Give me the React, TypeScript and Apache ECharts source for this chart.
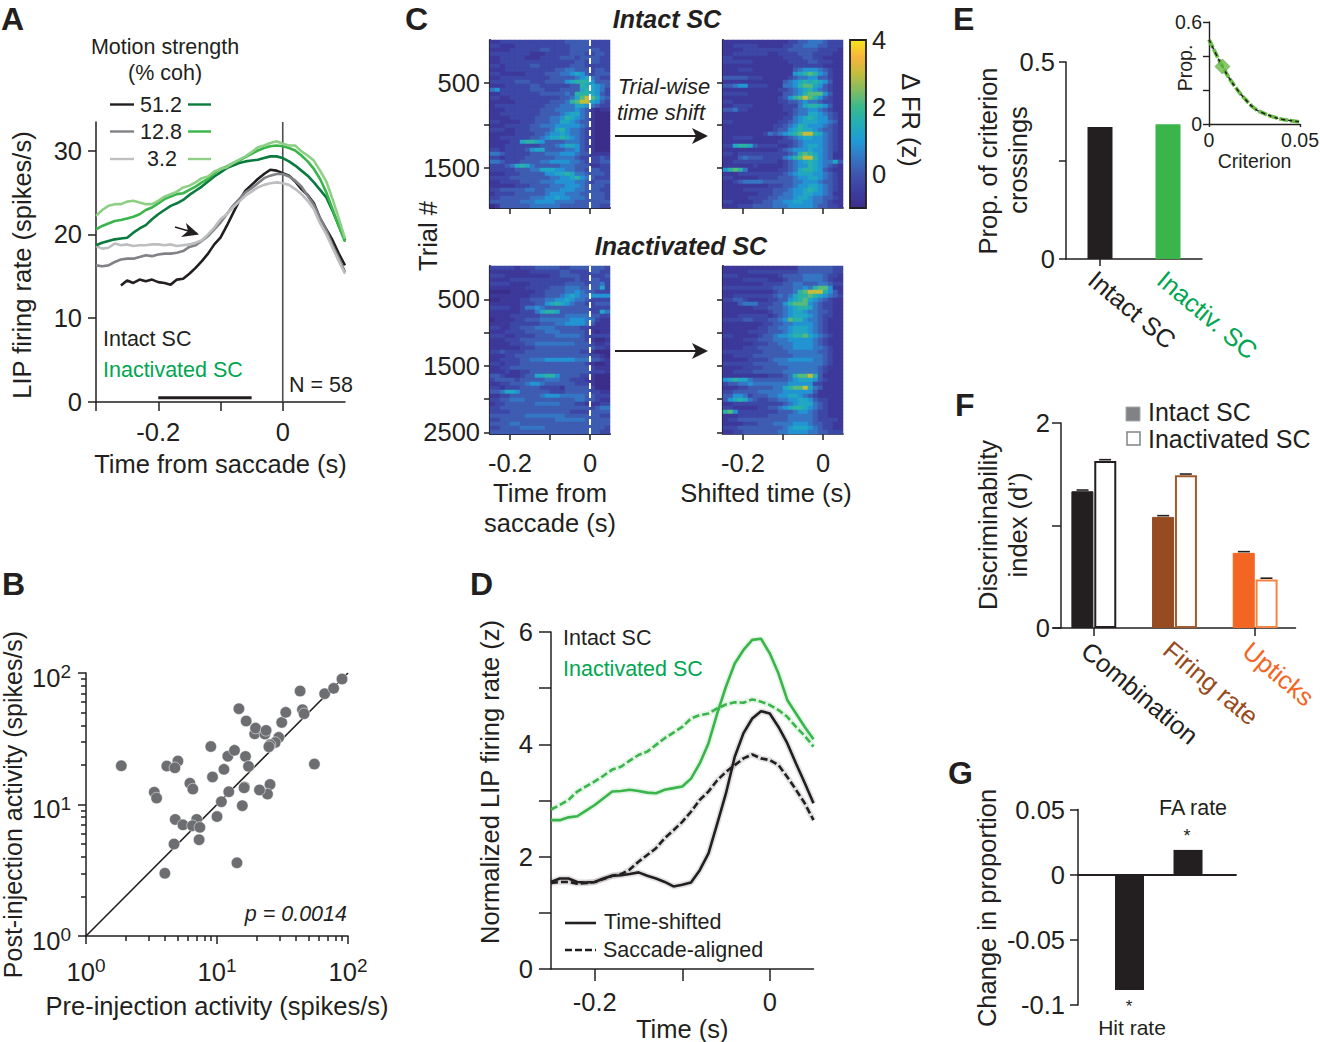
import React, { useEffect, useRef } from "react";
import * as echarts from "echarts";

const INK = "#231f20";
const FONT = "Liberation Sans";
const GREEN_TXT = "#00a651";

// Panel A
const timeA = [-0.3,-0.29,-0.28,-0.27,-0.26,-0.25,-0.24,-0.23,-0.22,-0.21,-0.2,-0.19,-0.18,-0.17,-0.16,-0.15,-0.14,-0.13,-0.12,-0.11,-0.1,-0.09,-0.08,-0.07,-0.06,-0.05,-0.04,-0.03,-0.02,-0.01,0,0.01,0.02,0.03,0.04,0.05,0.06,0.07,0.08,0.09,0.1];
const intact512 = [null,null,null,null,13.9,14.5,14.2,14.6,14.4,14.6,14.3,14.2,14.0,14.6,14.7,15.3,16.0,16.8,17.7,18.8,19.6,21.0,22.5,24.0,25.2,25.9,26.6,27.2,27.7,27.6,27.3,27.0,26.3,25.4,24.7,23.7,21.9,20.6,19.3,17.7,16.3];
const intact128 = [16.3,16.2,16.3,16.7,17.0,17.1,17.1,17.3,17.5,17.4,17.6,17.7,17.7,17.8,18.0,18.5,18.7,19.2,19.8,20.6,21.4,22.4,23.4,24.2,25.0,25.5,26.1,26.7,27.0,27.2,27.2,26.9,26.4,25.7,24.6,23.5,21.9,20.5,18.7,17.2,15.5];
const intact32 = [18.6,18.3,18.4,18.9,18.7,18.8,18.6,18.7,18.7,18.8,18.8,18.7,18.8,18.6,18.7,18.8,19.0,19.3,20.0,20.8,21.8,22.4,23.2,23.9,24.6,25.1,25.6,25.9,26.1,26.2,26.1,25.9,25.4,24.8,24.0,23.0,21.3,20.0,18.4,16.8,15.3];
const inact512 = [18.7,19.0,19.2,19.4,19.5,19.6,20.2,20.7,21.1,21.8,22.4,22.9,23.4,23.7,24.1,24.7,25.2,25.7,26.3,26.9,27.4,27.9,28.2,28.5,28.7,28.8,28.9,29.1,29.3,29.3,29.1,28.7,28.2,27.6,27.0,26.2,25.3,24.4,22.8,21.0,19.3];
const inact128 = [20.6,21.0,21.3,21.6,21.7,21.9,22.1,22.4,22.9,23.2,23.7,24.2,24.5,24.8,24.9,25.3,25.7,26.2,26.6,27.3,27.8,28.1,28.5,28.8,29.2,29.6,30.0,30.3,30.5,30.6,30.5,30.3,30.0,29.4,28.7,27.8,26.6,25.0,23.0,21.0,19.1];
const inact32 = [22.2,22.9,23.4,23.6,23.6,23.9,24.0,23.8,23.6,23.6,24.0,24.5,24.8,25.1,25.6,25.8,26.2,26.7,26.9,27.5,27.8,28.0,28.5,28.9,29.3,29.8,30.4,30.6,30.9,31.1,30.8,30.6,30.6,29.9,29.4,28.8,27.6,26.3,24.2,21.9,19.5];
const windowBar = [[-0.2, 0.5], [-0.05, 0.5]];
const saccadeLineA = [[0, 0], [0, 33.4]];

// Panel B: [pre, post]
const scatterB = [[1.86,19.7],[3.32,12.4],[3.46,11.2],[4.14,19.6],[5.03,21.4],[4.77,19.0],[6.21,14.5],[6.54,13.1],[8.97,27.6],[9.24,16.2],[11.3,18.5],[12.1,23.3],[13.6,25.8],[14.7,53.5],[16.5,23.2],[16.7,43.1],[17.4,19.5],[19.4,34.5],[19.7,38.1],[23.2,34.3],[23.7,36.6],[31.2,42.1],[33.5,50.2],[43.1,72.9],[44.9,52.6],[46.2,49.0],[66.4,69.6],[77.7,76.4],[90,90],[55.4,20.3],[29.6,32.4],[27.8,29.6],[25.4,28.5],[24.9,27.5],[25.4,14.2],[24.3,12.0],[21.1,12.9],[16.2,13.6],[16.1,13.4],[15.6,9.8],[12.3,12.5],[10.8,10.5],[10.0,8.1],[7.0,7.7],[4.8,7.7],[5.5,7.0],[6.5,6.9],[7.4,6.7],[7.3,5.4],[4.7,5.0],[4.0,3.0],[14.2,3.6]];
const unityB = [[1, 1], [100, 100]];
const logMajor = [1, 10, 100];
const logMinor = [2,3,4,5,6,7,8,9,20,30,40,50,60,70,80,90];

// Panel C: each digit indexes heatLevels (z), rows are trial bins, columns are time bins
const heatLevels = [-1, -0.65, -0.3, 0.1, 0.5, 0.9, 1.3, 1.7, 2.2, 3.0];
const heatIntactSaccade = [
"112222222222222333332222","221112222222222233332222","111122222233222233333322","222222221112222233322332",
"112222211122223332333322","112222222222222223323322","221222223322222233322222","111222222222233443332332",
"221111122223334456532333","112222222222333334564322","222223332223333567775333","111222223322222233766543",
"452222223332223333676542","112222222233333437776532","221122222222223346898643","111112222222333478996532",
"122222222223334446654322","111222222233344445431011","112222222233334566431000","111122222333445765431000",
"221111222333446654331000","111222223344455555431000","222112223333467544321000","111112222334556544321000",
"112222223345667654321000","111122677653333444321000","111222222233345665321000","221222235663333445321000",
"443222223334445554331111","221222233333344443222232","443222333344555544322233","222346764333334443331122",
"222223334466655443323322","111222333335566764433332","222233333333445567543222","112222333344455554432333",
"111112223333444555433332","223333344334445554433322","122223333334555444333332","223333334445565544433332",
"333333444555544443333333","013333334444443333333322"];
const heatIntactShifted = [
"111111111111122334443222","112222211111223344433222","111122222222233333322221","112222222112222333222211",
"221111111111222233221111","222222111111122223322211","111111111111112222221111","111222111111113455543211",
"111111111111115678754211","333332221111123445533211","111111111111345676765311","334552222111445788653211",
"111111111112234567543211","222221111111334578885311","111111111112357898753211","221111111112233454432211",
"112222111111222467765311","334221111111223445543211","111111111111123446654321","111111111111224567655321",
"221111111112234566655431","111111111122345765554321","111111111123356766543321","111111112434567899764321",
"112222111111234566554321","111111111112223455554321","226776322221123456654321","111111111112345556554321",
"221222222222234787654311","111343332222457899754311","112222222221234567654463","111111211111234557654321",
"578741111112234677653211","111222222222345666554321","221111122223334556654321","112344443333334455543321",
"111111111222334556654321","111122222233345567654321","111111122233445566554311","111112222334445665443321",
"221111223344556655443211","111222333344455555433221"];
const heatInactSaccade = [
"222221222333332233333332","111111112222223322223322","222111111111223333222223","111122222222222223223322",
"222211112222222333323342","111111122222333444333362","000011111223333445433222","111111112223334565445555",
"001111223334455654432222","111111222335676543322333","222211244543333333332222","111111222467763333332264",
"111122222233333444443322","011112233344444455544211","111122222233344555543111","221122333444433333221111",
"111222233334443333321011","222112222333344444322222","111222333333333333321001","111122233444444443332112",
"111111222333333333333221","223222233333333333221000","111223333333333333332210","112222334445555554443321",
"221222333333333333321001","112233333333333333332111","111211223333333333332221","332111233667753333221000",
"233332333334443322211000","112233345543333332221000","221222333322221333332000","334665333333222333332211",
"112233333345554444433222","223344433333333334433211","122333333444443332211122","223333333333333333332344",
"222233333333333322223333","333333344444444333333322","223333333333344444433333","333344333333333333333333",
"223333444443333333333332","333333333333333333333322"];
const heatInactShifted = [
"111111111111111333333322","111112222222222333333322","222111111112333344443221","111122222111233344443211",
"111111112222334433344322","222222222233334454788511","111111111123334789997531","112222222234346778765432",
"223321111223356786543211","111344422233578885432211","111111222333456776432211","111111111233456654433211",
"111222222123456665432211","222233222334587754432111","111111112233445555432111","111111122334456665432111",
"111112222333456665432111","221111123345567786543211","111122233344455555432111","111111222334445555432111",
"111122233333445555443211","222222223333344444433211","112222333333334444443211","111112222344455555443211",
"222222333334444444443211","111122223333344444432111","112222333333444444432111","111111111222347889731111",
"567664333333345666532111","233445444444455555221111","111223333344678896431111","223333344444555555311111",
"335542333445566543211111","356764322334455665322111","112222222222345666432111","221111122334567765432111",
"785222222223334554322111","111222222333344444322111","122333333333344444322221","111122233344445554332211",
"222333333333456665432211","112233333334455554433222"];
const parula = ["#3b2e8b","#3c3ea0","#3f55ae","#3576c4","#1f9bd7","#22aeb6","#39b98e","#80bc62","#c3bd3d","#f6b53c","#f4e71c"];
const colorbarTicks = [0, 2, 4];

// Panel D
const timeD = [-0.25,-0.24,-0.23,-0.22,-0.21,-0.2,-0.19,-0.18,-0.17,-0.16,-0.15,-0.14,-0.13,-0.12,-0.11,-0.1,-0.09,-0.08,-0.07,-0.06,-0.05,-0.04,-0.03,-0.02,-0.01,0,0.01,0.02,0.03,0.04,0.05];
const dInactShift = [2.65,2.65,2.70,2.72,2.82,2.92,3.04,3.16,3.17,3.19,3.17,3.14,3.13,3.19,3.22,3.25,3.39,3.66,4.02,4.55,5.03,5.44,5.68,5.86,5.88,5.62,5.26,4.79,4.55,4.31,4.09];
const dInactSacc = [2.84,2.92,3.01,3.16,3.25,3.34,3.44,3.55,3.60,3.71,3.81,3.87,3.99,4.11,4.21,4.31,4.46,4.52,4.55,4.64,4.71,4.75,4.74,4.80,4.76,4.70,4.61,4.49,4.31,4.15,3.96];
const dIntactShift = [1.55,1.61,1.61,1.55,1.54,1.55,1.61,1.66,1.67,1.69,1.72,1.66,1.61,1.55,1.47,1.50,1.54,1.76,2.06,2.59,3.13,3.78,4.20,4.46,4.59,4.55,4.31,4.02,3.66,3.31,2.95];
const dIntactSacc = [1.53,1.55,1.55,1.52,1.53,1.55,1.60,1.66,1.69,1.77,1.91,2.03,2.15,2.33,2.47,2.62,2.80,3.01,3.16,3.36,3.51,3.63,3.75,3.82,3.75,3.72,3.63,3.42,3.19,2.95,2.65];

// Panel E
const eCats = ["Intact SC", "Inactiv. SC"];
const eValues = [0.335, 0.342];
const eColors = ["#231f20", "#39b54a"];
const eLabelColors = [INK, GREEN_TXT];
const inset = [[0,0.496],[0.005,0.387],[0.008,0.328],[0.01,0.289],[0.015,0.21],[0.02,0.145],[0.025,0.092],[0.03,0.063],[0.035,0.043],[0.04,0.028],[0.045,0.02],[0.05,0.012]];
const insetMarker = [[0.0074, 0.338]];

// Panel F
const fCats = ["Combination", "Firing rate", "Upticks"];
const fIntact = [1.334, 1.084, 0.733];
const fInact = [1.63, 1.49, 0.474];
const fErr = [0.012, 0.012, 0.012];
const fColors = ["#231f20", "#964b20", "#f26522"];
const fOutlineColors = ["#231f20", "#a05a2c", "#f58345"];

// Panel G
const gBars = [[1, -0.0884], [2, 0.019]];

const BIG = 25.5;
const DIAG = (-40 * Math.PI) / 180;

const txt = (x: number, y: number, text: string, o: any = {}) => ({
  type: "text", x, y, rotation: o.rot || 0, z: 100,
  style: {
    text, fill: o.color || INK, fontFamily: FONT,
    fontSize: o.size || 21.5, fontWeight: o.weight || "normal", fontStyle: o.italic ? "italic" : "normal",
    align: o.align || "left", verticalAlign: "middle",
  },
});
const seg = (x1: number, y1: number, x2: number, y2: number, color = INK, width = 2.4, dash?: number[]) => ({
  type: "line", z: 100, shape: { x1, y1, x2, y2 },
  style: { stroke: color, lineWidth: width, lineDash: dash },
});
const arrow = (x1: number, x2: number, y: number) => [
  seg(x1, y, x2 - 10, y, INK, 1.8),
  { type: "polygon", z: 100, shape: { points: [[x2, y], [x2 - 16, y - 8], [x2 - 12, y], [x2 - 16, y + 8]] }, style: { fill: INK } },
];

const fmt1 = (v: number) => (Math.abs(v) < 1e-9 ? "0" : Number(v.toFixed(2)).toString());
const axLine = (width = 1.5, color = INK) => ({ show: true, onZero: false, lineStyle: { color, width } });
const ticks = (values: number[], length = 8, width = 1.5, color = INK) => ({ show: true, customValues: values, length, lineStyle: { color, width } });
const labels = (values: number[], size = BIG, margin = 12, extra: any = {}) => ({
  show: true, customValues: values, fontSize: size, color: INK, fontFamily: FONT, margin, formatter: fmt1, hideOverlap: false, ...extra,
});
const nameStyle = (size = BIG) => ({ fontSize: size, color: INK, fontFamily: FONT });

const line = (name: string, xA: number, yA: number, data: any[], color: string, width = 2.6, dash?: any, z = 3, opacity = 1) => ({
  type: "line", name, xAxisIndex: xA, yAxisIndex: yA, data, showSymbol: false, symbol: "none", silent: true, z,
  connectNulls: false, lineStyle: { color, width, type: dash || "solid", opacity, cap: "butt" }, itemStyle: { color },
});

function buildOption() {
  const grid: any[] = [], xAxis: any[] = [], yAxis: any[] = [], series: any[] = [];
  const addGrid = (left: number, top: number, width: number, height: number) => { grid.push({ left, top, width, height, containLabel: false, outerBoundsMode: "none" }); return grid.length - 1; };
  const zip = (t: number[], v: any[]) => t.map((x, i) => [x, v[i]]);

  // A
  const gA = addGrid(96, 122, 249, 280);
  xAxis.push({ gridIndex: gA, type: "value", min: -0.3, max: 0.1, axisLine: axLine(), axisTick: ticks([-0.3, -0.2, -0.1, 0], 9), axisLabel: labels([-0.2, 0], BIG, 17), splitLine: { show: false }, name: "Time from saccade (s)", nameLocation: "middle", nameGap: 49, nameTextStyle: nameStyle() });
  yAxis.push({ gridIndex: gA, type: "value", min: 0, max: 33.4, axisLine: axLine(), axisTick: ticks([0, 10, 20, 30], 8), axisLabel: labels([0, 10, 20, 30], BIG, 14, { padding: [0, 0, 6, 0] }), splitLine: { show: false } });
  const xa = xAxis.length - 1, ya = yAxis.length - 1;
  series.push(line("Saccade", xa, ya, saccadeLineA, "#4d4d4f", 1.6));
  series.push(line("Intact 51.2", xa, ya, zip(timeA, intact512), "#231f20"));
  series.push(line("Intact 12.8", xa, ya, zip(timeA, intact128), "#808285"));
  series.push(line("Intact 3.2", xa, ya, zip(timeA, intact32), "#bcbec0"));
  series.push(line("Inactivated 51.2", xa, ya, zip(timeA, inact512), "#0b7a3e"));
  series.push(line("Inactivated 12.8", xa, ya, zip(timeA, inact128), "#39b54a"));
  series.push(line("Inactivated 3.2", xa, ya, zip(timeA, inact32), "#8dd085"));
  series.push(line("Window", xa, ya, windowBar, INK, 3));

  // B
  const gB = addGrid(86, 673, 262, 263);
  const logLabel = (v: number) => `10{s|${Math.round(Math.log10(v))}}`;
  const rich = { s: { fontSize: 19, verticalAlign: "top", padding: [0, 0, 12, 0], color: INK, fontFamily: FONT } };
  xAxis.push({ gridIndex: gB, type: "log", min: 1, max: 100, logBase: 10, position: "bottom", axisLine: axLine(), axisTick: ticks(logMajor, 8), axisLabel: { ...labels(logMajor, BIG, 20), formatter: logLabel, rich }, splitLine: { show: false }, minorTick: { show: false }, name: "Pre-injection activity (spikes/s)", nameLocation: "middle", nameGap: 57, nameTextStyle: nameStyle() });
  const xb = xAxis.length - 1;
  xAxis.push({ gridIndex: gB, type: "log", min: 1, max: 100, logBase: 10, position: "bottom", axisLine: { show: false, onZero: false }, axisTick: ticks(logMinor, 5), axisLabel: { show: false }, splitLine: { show: false } });
  yAxis.push({ gridIndex: gB, type: "log", min: 1, max: 100, logBase: 10, position: "left", axisLine: axLine(), axisTick: ticks(logMajor, 8), axisLabel: { ...labels(logMajor, BIG, 15), formatter: logLabel, rich, padding: [9, 0, 0, 0] }, splitLine: { show: false }, name: "Post-injection activity (spikes/s)", nameLocation: "middle", nameGap: 61, nameTextStyle: nameStyle(25) });
  const yb = yAxis.length - 1;
  yAxis.push({ gridIndex: gB, type: "log", min: 1, max: 100, logBase: 10, position: "left", axisLine: { show: false, onZero: false }, axisTick: ticks(logMinor, 5), axisLabel: { show: false }, splitLine: { show: false } });
  series.push(line("Unity", xb, yb, unityB, INK, 1.6));
  series.push({ type: "scatter", name: "Neurons", xAxisIndex: xb, yAxisIndex: yb, data: scatterB, symbolSize: 11.5, silent: true, z: 4, itemStyle: { color: "#6d6e71", borderColor: "#ffffff", borderWidth: 0.5, opacity: 1 } });

  // C
  const nCols = 24;
  const colCats = Array.from({ length: nCols }, (_, i) => String(i));
  const heatSeries: number[] = [];
  const addHeat = (left: number, top: number, maxTrial: number, rows: string[], yTicks: number[], yLabels: number[], xLabels: number[], dashed: boolean, lineColor: string) => {
    const g = addGrid(left, top, 120, 168);
    xAxis.push({ gridIndex: g, type: "category", data: colCats, show: false, boundaryGap: true });
    const xCat = xAxis.length - 1;
    yAxis.push({ gridIndex: g, type: "category", data: rows.map((_, i) => String(i)), show: false, inverse: true, boundaryGap: true });
    const yCat = yAxis.length - 1;
    xAxis.push({ gridIndex: g, type: "value", min: -0.25, max: 0.05, position: "bottom", axisLine: axLine(1.8, lineColor), axisTick: ticks([-0.2, -0.1, 0], 6, 1.5, INK), axisLabel: xLabels.length ? labels(xLabels, BIG, 16) : { show: false }, splitLine: { show: false } });
    const xVal = xAxis.length - 1;
    yAxis.push({ gridIndex: g, type: "value", min: 0, max: maxTrial, inverse: true, position: "left", axisLine: axLine(2.2, INK), axisTick: ticks(yTicks, 6, 1.5, INK), axisLabel: yLabels.length ? labels(yLabels, BIG, 10) : { show: false }, splitLine: { show: false } });
    const yVal = yAxis.length - 1;
    const data: number[][] = [];
    rows.forEach((r, y) => r.split("").forEach((ch, x) => data.push([x, y, heatLevels[Number(ch)]])));
    series.push({ type: "heatmap", name: "Trials", xAxisIndex: xCat, yAxisIndex: yCat, data, silent: true, progressive: 0, z: 1, itemStyle: { borderWidth: 0 } });
    heatSeries.push(series.length - 1);
    if (dashed) series.push({ ...line("Saccade time", xVal, yVal, [[0, 0], [0, maxTrial]], "#ffffff", 2, [6, 3], 5) });
  };
  addHeat(490, 40, 1975, heatIntactSaccade, [500, 1000, 1500], [500, 1500], [], true, INK);
  addHeat(723, 40, 1975, heatIntactShifted, [500, 1000, 1500], [], [], false, "#58595b");
  addHeat(490, 266, 2525, heatInactSaccade, [500, 1000, 1500, 2000, 2500], [500, 1500, 2500], [-0.2, 0], true, INK);
  addHeat(723, 266, 2525, heatInactShifted, [500, 1000, 1500, 2000, 2500], [], [-0.2, 0], false, "#58595b");
  // colour bar axis
  const gC = addGrid(850, 40, 16, 168);
  xAxis.push({ gridIndex: gC, type: "value", min: 0, max: 1, show: false });
  yAxis.push({ gridIndex: gC, type: "value", min: -1, max: 4, position: "right", axisLine: { show: false, onZero: false }, axisTick: { ...ticks(colorbarTicks, 3, 1.4), inside: true }, axisLabel: labels(colorbarTicks, BIG, 6), splitLine: { show: false } });

  // D
  const gD = addGrid(551, 632, 262.5, 337);
  xAxis.push({ gridIndex: gD, type: "value", min: -0.25, max: 0.05, axisLine: axLine(), axisTick: ticks([-0.2, -0.1, 0], 12), axisLabel: labels([-0.2, 0], BIG, 20), splitLine: { show: false }, name: "Time (s)", nameLocation: "middle", nameGap: 45, nameTextStyle: nameStyle() });
  yAxis.push({ gridIndex: gD, type: "value", min: 0, max: 6, axisLine: axLine(), axisTick: ticks([0, 1, 2, 3, 4, 5, 6], 12), axisLabel: labels([0, 2, 4, 6], BIG, 18, { padding: [0, 0, 3, 0] }), splitLine: { show: false } });
  const xd = xAxis.length - 1, yd = yAxis.length - 1;
  [[dInactSacc, "#39b54a"], [dInactShift, "#39b54a"], [dIntactSacc, "#231f20"], [dIntactShift, "#231f20"]].forEach(([d, c]: any) => series.push(line("Band", xd, yd, zip(timeD, d), c, 6, undefined, 2, 0.13)));
  series.push(line("Inactivated saccade-aligned", xd, yd, zip(timeD, dInactSacc), "#39b54a", 2.6, [7, 3]));
  series.push(line("Inactivated time-shifted", xd, yd, zip(timeD, dInactShift), "#39b54a", 2.6));
  series.push(line("Intact saccade-aligned", xd, yd, zip(timeD, dIntactSacc), INK, 2.6, [7, 3]));
  series.push(line("Intact time-shifted", xd, yd, zip(timeD, dIntactShift), INK, 2.6));

  // E
  const gE = addGrid(1066, 62, 136, 197);
  xAxis.push({ gridIndex: gE, type: "category", data: eCats, axisLine: axLine(), axisTick: { show: true, alignWithLabel: true, length: 7, lineStyle: { color: INK, width: 1.5 } }, axisLabel: { show: false } });
  yAxis.push({ gridIndex: gE, type: "value", min: 0, max: 0.5, axisLine: axLine(), axisTick: ticks([0, 0.25, 0.5], 7), axisLabel: labels([0, 0.5], BIG, 11, { padding: [0, 0, 3, 0] }), splitLine: { show: false } });
  series.push({ type: "bar", name: "Prop. of criterion crossings", xAxisIndex: xAxis.length - 1, yAxisIndex: yAxis.length - 1, barWidth: 25, silent: true, data: eValues.map((v, i) => ({ value: v, itemStyle: { color: eColors[i] } })) });

  // E inset
  const gI = addGrid(1209, 22, 91, 102);
  xAxis.push({ gridIndex: gI, type: "value", min: 0, max: 0.05, axisLine: axLine(1.4), axisTick: ticks([0, 0.05], 3, 1.4), axisLabel: labels([0, 0.05], 19.5, 6), splitLine: { show: false }, name: "Criterion", nameLocation: "middle", nameGap: 20, nameTextStyle: nameStyle(19.5) });
  yAxis.push({ gridIndex: gI, type: "value", min: 0, max: 0.6, axisLine: axLine(1.4), axisTick: ticks([0, 0.2, 0.4, 0.6], 6, 1.4), axisLabel: labels([0, 0.6], 19.5, 7, { padding: [0, 0, 3, 0] }), splitLine: { show: false } });
  const xi = xAxis.length - 1, yi = yAxis.length - 1;
  series.push({ ...line("Inactivated", xi, yi, inset, "#6abd45", 3.8, [9, 2]), smooth: true });
  series.push({ ...line("Intact", xi, yi, inset, INK, 1.6, [4, 3], 4), smooth: true });
  series.push({ type: "scatter", name: "Criterion used", xAxisIndex: xi, yAxisIndex: yi, data: insetMarker, symbol: "diamond", symbolSize: 15, silent: true, z: 6, itemStyle: { color: "#6abd45", borderColor: "#3f7f2f", borderWidth: 0.6 } });

  // F
  const gF = addGrid(1053.5, 423, 242, 205);
  xAxis.push({ gridIndex: gF, type: "category", data: fCats, axisLine: axLine(), axisTick: { show: true, alignWithLabel: true, length: 8, lineStyle: { color: INK, width: 1.5 } }, axisLabel: { show: false } });
  yAxis.push({ gridIndex: gF, type: "value", min: 0, max: 2, offset: -7.5, axisLine: axLine(), axisTick: ticks([0, 1, 2], 9), axisLabel: labels([0, 2], BIG, 11, { padding: [0, 0, 3, 0] }), splitLine: { show: false } });
  const xf = xAxis.length - 1, yf = yAxis.length - 1;
  series.push({ type: "bar", name: "Intact SC", xAxisIndex: xf, yAxisIndex: yf, barWidth: 22, barGap: "4%", silent: true, data: fIntact.map((v, i) => ({ value: v, itemStyle: { color: fColors[i], borderColor: fColors[i], borderWidth: 1 } })) });
  series.push({ type: "bar", name: "Inactivated SC", xAxisIndex: xf, yAxisIndex: yf, barWidth: 22, silent: true, data: fInact.map((v, i) => ({ value: v, itemStyle: { color: "#ffffff", borderColor: fOutlineColors[i], borderWidth: 2 } })) });
  const errItem = (sign: number) => (_p: any, api: any) => {
    const val = api.value(1), e = api.value(2);
    const [cx] = api.coord([api.value(0), 0]);
    const band = api.size([1, 0])[0];
    const x = cx + sign * band * 0.14;
    const y = api.coord([api.value(0), val + e])[1];
    return { type: "line", shape: { x1: x - 6, y1: y, x2: x + 6, y2: y }, style: { stroke: INK, lineWidth: 1.6 } };
  };
  series.push({ type: "custom", name: "Error intact", xAxisIndex: xf, yAxisIndex: yf, silent: true, z: 5, renderItem: errItem(-1), encode: { x: 0, y: 1 }, data: fIntact.map((v, i) => [i, v, fErr[i]]) });
  series.push({ type: "custom", name: "Error inactivated", xAxisIndex: xf, yAxisIndex: yf, silent: true, z: 5, renderItem: errItem(1), encode: { x: 0, y: 1 }, data: fInact.map((v, i) => [i, v, fErr[i]]) });

  // G
  const gG = addGrid(1078, 809.5, 158, 195.5);
  xAxis.push({ gridIndex: gG, type: "value", min: 0.12, max: 2.82, axisLine: { show: true, onZero: true, lineStyle: { color: INK, width: 1.8 } }, axisTick: { show: false }, axisLabel: { show: false }, splitLine: { show: false } });
  yAxis.push({ gridIndex: gG, type: "value", min: -0.1, max: 0.05, axisLine: axLine(), axisTick: ticks([-0.1, -0.05, 0, 0.05], 8), axisLabel: labels([-0.1, -0.05, 0, 0.05], BIG, 13), splitLine: { show: false } });
  series.push({ type: "bar", name: "Change in proportion", xAxisIndex: xAxis.length - 1, yAxisIndex: yAxis.length - 1, barWidth: 29, silent: true, data: gBars, itemStyle: { color: INK } });

  const graphic: any[] = [
    // Panel letters
    ...([["A", 1, 18.5], ["B", 2, 584], ["C", 405, 18.5], ["D", 470, 584], ["E", 953, 18.5], ["F", 955, 405], ["G", 948, 773]] as any[]).map(([t, x, y]) => txt(x, y, t, { size: 32, weight: "bold" })),
    // A
    txt(165, 47, "Motion strength", { align: "center" }),
    txt(165, 73, "(% coh)", { align: "center" }),
    txt(140, 105, "51.2"), txt(140, 131.5, "12.8"), txt(147, 159, "3.2"),
    seg(110, 104.5, 134, 104.5, "#231f20"), seg(110, 131.5, 134, 131.5, "#808285"), seg(110, 159, 134, 159, "#bcbec0"),
    seg(188, 104.5, 211, 104.5, "#0b7a3e"), seg(188, 131.5, 211, 131.5, "#39b54a"), seg(188, 159, 211, 159, "#8dd085"),
    seg(175, 227, 197, 233.5, INK, 1.6),
    { type: "polygon", z: 100, shape: { points: [[199, 234.5], [186, 223], [188, 231], [181, 237]] }, style: { fill: INK } },
    txt(103, 339, "Intact SC"), txt(103, 370, "Inactivated SC", { color: GREEN_TXT }),
    txt(289, 384.5, "N = 58"),
    txt(22, 265, "LIP firing rate (spikes/s)", { size: BIG, align: "center", rot: Math.PI / 2 }),
    // B
    txt(347, 914, "p = 0.0014", { italic: true, align: "right" }),
    // C
    txt(667, 19, "Intact SC", { size: 25, weight: "bold", italic: true, align: "center" }),
    txt(681, 246, "Inactivated SC", { size: 25, weight: "bold", italic: true, align: "center" }),
    txt(664, 86, "Trial-wise", { size: 22, italic: true, align: "center" }),
    txt(661, 112, "time shift", { size: 22, italic: true, align: "center" }),
    ...arrow(615, 708, 136), ...arrow(615, 708, 351),
    txt(428, 236, "Trial #", { size: BIG, align: "center", rot: Math.PI / 2 }),
    txt(911, 120, "\u0394 FR (z)", { size: BIG, align: "center", rot: -Math.PI / 2 }),
    { type: "rect", z: 100, shape: { x: 850, y: 40, width: 16, height: 168 }, style: { fill: "transparent", stroke: INK, lineWidth: 1.8 } },
    txt(550, 493, "Time from", { size: BIG, align: "center" }),
    txt(550, 523, "saccade (s)", { size: BIG, align: "center" }),
    txt(766, 493, "Shifted time (s)", { size: BIG, align: "center" }),
    // D
    txt(490, 782, "Normalized LIP firing rate (z)", { size: BIG, align: "center", rot: Math.PI / 2 }),
    txt(563, 638, "Intact SC"), txt(563, 669, "Inactivated SC", { color: GREEN_TXT }),
    seg(565, 923, 596, 923, INK, 2.6), seg(565, 950, 596, 950, INK, 2.6, [7, 3]),
    txt(604, 922, "Time-shifted"), txt(603, 950, "Saccade-aligned"),
    // E
    txt(988, 161, "Prop. of criterion", { size: BIG, align: "center", rot: Math.PI / 2 }),
    txt(1018, 160, "crossings", { size: BIG, align: "center", rot: Math.PI / 2 }),
    txt(1185, 68, "Prop.", { size: 19.5, align: "center", rot: Math.PI / 2 }),
    txt(1092, 276, eCats[0], { size: BIG, rot: DIAG, color: eLabelColors[0] }),
    txt(1161, 276, eCats[1], { size: BIG, rot: DIAG, color: eLabelColors[1] }),
    // F
    { type: "rect", z: 100, shape: { x: 1126, y: 407, width: 14, height: 14 }, style: { fill: "#808285", stroke: "#a7a9ac", lineWidth: 1 } },
    { type: "rect", z: 100, shape: { x: 1127, y: 432, width: 13, height: 13 }, style: { fill: "#ffffff", stroke: "#808285", lineWidth: 1.5 } },
    txt(1148, 411.5, "Intact SC", { size: 25 }), txt(1148, 438.5, "Inactivated SC", { size: 25 }),
    txt(988, 525, "Discriminability", { size: BIG, align: "center", rot: Math.PI / 2 }),
    txt(1018, 525, "index (d\u2019)", { size: BIG, align: "center", rot: Math.PI / 2 }),
    txt(1085, 647, fCats[0], { size: BIG, rot: DIAG, color: fColors[0] }),
    txt(1167, 646, fCats[1], { size: BIG, rot: DIAG, color: fColors[1] }),
    txt(1246.5, 647, fCats[2], { size: BIG, rot: DIAG, color: fColors[2] }),
    // G
    txt(987, 908, "Change in proportion", { size: BIG, align: "center", rot: Math.PI / 2 }),
    txt(1193, 808, "FA rate", { align: "center" }), txt(1187, 836, "*", { size: 18, align: "center" }),
    txt(1132, 1027, "Hit rate", { size: 21, align: "center" }), txt(1129, 1006, "*", { size: 17, align: "center" }),
  ];

  return {
    animation: false,
    backgroundColor: "#ffffff",
    textStyle: { fontFamily: FONT, color: INK },
    grid, xAxis, yAxis, series, graphic,
    visualMap: {
      type: "continuous", show: true, seriesIndex: heatSeries, dimension: 2, min: -1, max: 4,
      left: 850, top: 40, itemWidth: 16, itemHeight: 168, padding: 0, calculable: false, text: ["", ""], textGap: 0,
      inRange: { color: parula }, hoverLink: false, realtime: false, silent: true,
    },
  };
}

export default function App() {
  const ref = useRef<HTMLDivElement>(null);
  useEffect(() => {
    document.body.style.margin = "0";
    const chart = echarts.init(ref.current!, undefined, { renderer: "svg" });
    chart.setOption(buildOption() as any);
    return () => chart.dispose();
  }, []);
  return <div ref={ref} style={{ width: 1320, height: 1042, position: "absolute", left: 0, top: 0 }} />;
}
